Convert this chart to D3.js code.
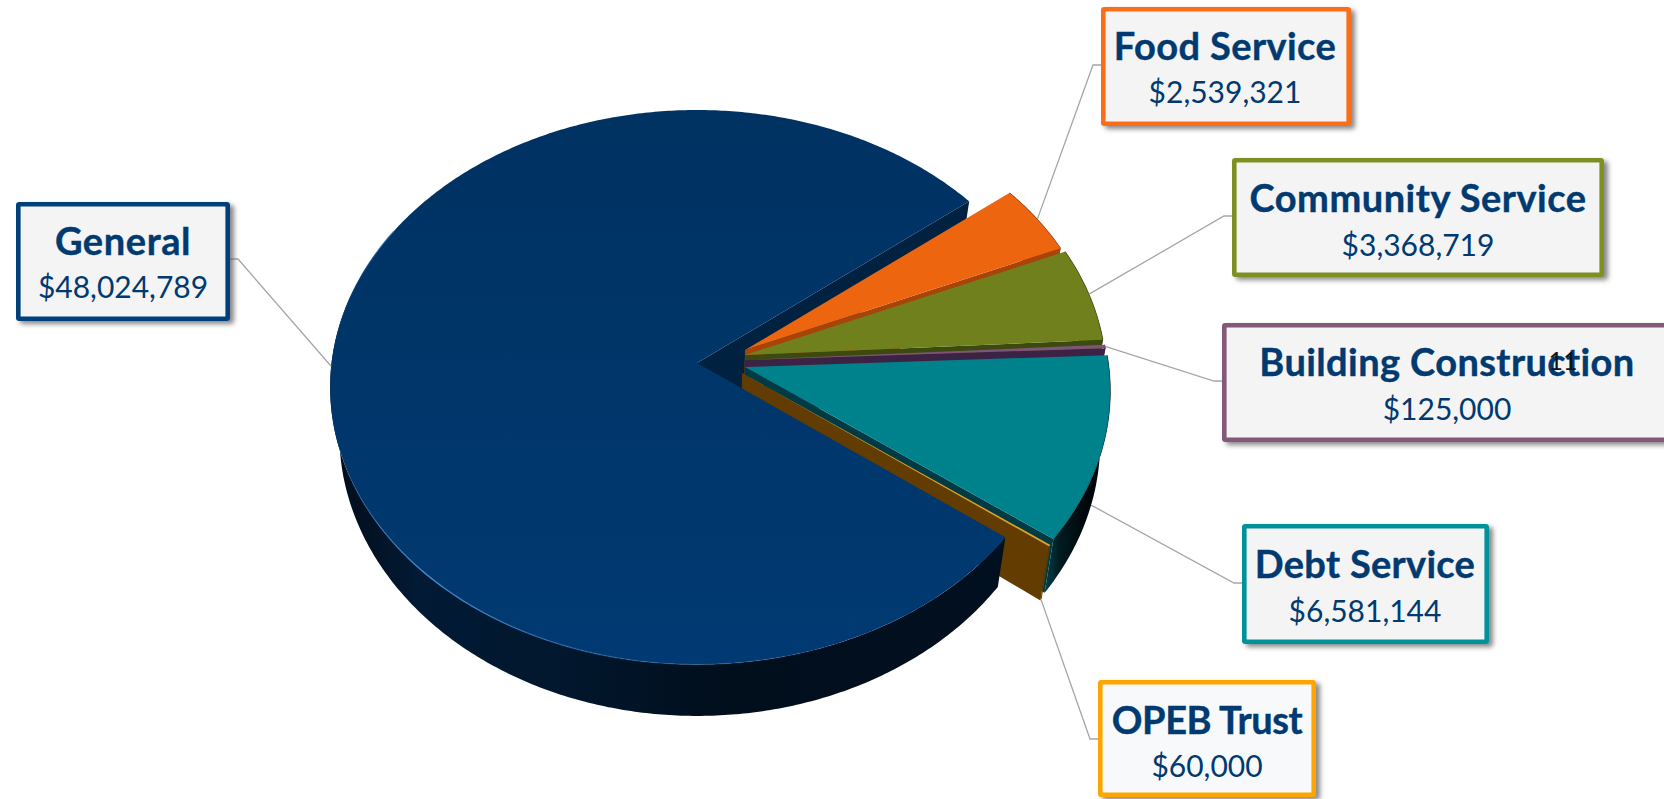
<!DOCTYPE html>
<html>
<head>
<meta charset="utf-8">
<script src="https://cdn.jsdelivr.net/npm/d3@7"></script>
<style>
  html, body { margin: 0; padding: 0; background: #fff; overflow: hidden; }
  text { font-family: Lato, "Open Sans", sans-serif; }
</style>
</head>
<body>
<div id="chart"></div>
<script>
// chart data
const categories = ["General", "Food Service", "Community Service", "Building Construction", "Debt Service", "OPEB Trust"];
const amounts = [48024789, 2539321, 3368719, 125000, 6581144, 60000];

// slice colours
const topColors = ["#00366b", "#ee6510", "#70801c", "#7e5578", "#00828c", "#e5a11b"];
const cutColors = ["#00213f", "#a84408", "#3c4a10", "#3c2345", "#003a44", "#623c00"];
const borderColors = ["#003f7a", "#fb6d17", "#7f8f22", "#835878", "#00929a", "#ffa500"];

// each slice is pulled away from the pie by this much
const pullX = [0, 48, 48, 48, 48, 45];
const pullY = [0, -13, -8, -3, 4, 10];
const sliceScale = [1.004, 0.975, 0.99, 0.995, 1, 1];
const sliceDepth = [47, 51, 51, 51, 51, 51];

// callout boxes
const boxX = [16, 1101, 1232, 1222, 1242, 1098];
const boxY = [202, 7, 158, 323, 524, 680];
const boxW = [214, 250, 372, 460, 247, 218];
const boxH = [119, 119, 119, 119, 120, 117];
const textX = [123, 1225, 1418, 1447, 1365, 1207];
const titleDy = [53, 53, 54, 53, 54, 54];
const valueDy = [96, 96, 98, 97, 98, 97];
const titleSpacing = [0.6, 0.4, 0.5, 0.4, 0.3, -0.4];
const elbowY = [259, 65, 216, 381, 583, 739];
const leaderOnBase = [0, 0, 0, 0, 1, 1];
const leaderTurn = [0, 0, 0, 0, 0.7, 0];

const width = 1664, height = 799;
const cx = 697, cy = 363;
const radiusX = 364, radiusY = 274, persp = 0.087;
const shrink = 0.025, vanishX = 700;

const svg = d3.select("#chart").append("svg")
  .attr("width", width)
  .attr("height", height);

const defs = svg.append("defs");

const shadow = defs.append("filter").attr("id", "boxShadow")
  .attr("x", "-10%").attr("y", "-10%").attr("width", "125%").attr("height", "130%");
shadow.append("feDropShadow")
  .attr("dx", 4).attr("dy", 3).attr("stdDeviation", 2.5)
  .attr("flood-color", "#555").attr("flood-opacity", 0.7);

function hGradient(id, x1, x2, stops) {
  const g = defs.append("linearGradient").attr("id", id)
    .attr("gradientUnits", "userSpaceOnUse")
    .attr("x1", x1).attr("x2", x2).attr("y1", 0).attr("y2", 0);
  stops.forEach(s => g.append("stop").attr("offset", s[0]).attr("stop-color", s[1]).attr("stop-opacity", s[2] === undefined ? 1 : s[2]));
}
hGradient("generalWall", 330, 1000, [[0, "#020c18"], [0.13, "#021a35"], [0.35, "#01172d"], [0.6, "#010e1c"], [1, "#011020"]]);
hGradient("debtWall", 1045, 1085, [[0, "#014048"], [0.35, "#001c22"], [1, "#00070a"]]);
hGradient("rimGlow", 335, 900, [[0, "#3b82c8", 0], [0.16, "#4a8fd6", 0.9], [0.45, "#2f6fb5", 0.5], [1, "#2f6fb5", 0]]);

const generalFace = defs.append("linearGradient").attr("id", "generalFace")
  .attr("gradientUnits", "userSpaceOnUse").attr("x1", 0).attr("x2", 0).attr("y1", 110).attr("y2", 665);
generalFace.append("stop").attr("offset", 0).attr("stop-color", "#003262");
generalFace.append("stop").attr("offset", 1).attr("stop-color", "#003a72");

// pie starts where General begins in the picture, clockwise from north
const startAngle = 126.9 * Math.PI / 180;
const pie = d3.pie().sort(null).startAngle(startAngle).endAngle(startAngle + 2 * Math.PI);
const slices = pie(amounts);

// flat pie position -> screen position, down = on the base of the disc
function project(angle, r, i, down) {
  const X = r * sliceScale[i] * Math.sin(angle), Y = -r * sliceScale[i] * Math.cos(angle);
  const w = 1 - persp * Y;
  let x = cx + pullX[i] + radiusX * X / w;
  let y = cy + pullY[i] + radiusY * Y / w;
  if (down) {
    x = vanishX + (x - vanishX) * (1 - shrink);
    y += sliceDepth[i] / w;
  }
  return [x, y];
}

const line = d3.line();

function arcAngles(a0, a1) {
  const n = Math.max(2, Math.ceil((a1 - a0) / 0.01));
  return d3.range(n + 1).map(k => a0 + (a1 - a0) * k / n);
}

function topPath(d, i) {
  const pts = arcAngles(d.startAngle, d.endAngle).map(a => project(a, 1, i, false));
  pts.unshift(project(0, 0, i, false));
  return line(pts) + "Z";
}
function rimWall(i, a0, a1) {
  const angles = arcAngles(a0, a1);
  const upper = angles.map(a => project(a, 1, i, false));
  const lower = angles.map(a => project(a, 1, i, true)).reverse();
  return line(upper.concat(lower)) + "Z";
}
// innerExtra drops the inner bottom corner a little, General's face hides the excess
function cutWall(i, a, innerExtra) {
  const inner = project(0, 0, i, true);
  return line([
    project(0, 0, i, false), project(a, 1, i, false),
    project(a, 1, i, true), [inner[0], inner[1] + (innerExtra || 0)]
  ]) + "Z";
}

const pieG = svg.append("g");

// back wall of the General slice goes first, the pulled slices sit on top of it
pieG.append("path")
  .attr("d", cutWall(0, slices[0].endAngle, 10))
  .attr("fill", cutColors[0]);

// pulled slices, back to front
d3.range(1, slices.length).forEach(i => {
  const d = slices[i];
  const g = pieG.append("g");
  g.append("path").attr("d", rimWall(i, d.startAngle, d.endAngle))
    .attr("fill", i === 4 ? "url(#debtWall)" : cutColors[i]);
  g.append("path").attr("d", cutWall(i, d.endAngle)).attr("fill", cutColors[i]);
  g.append("path").attr("d", topPath(d, i)).attr("fill", topColors[i]);
  g.append("path")
    .attr("d", line(arcAngles(d.startAngle, d.endAngle).map(a => project(a, 1, i, false))))
    .attr("fill", "none")
    .attr("stroke", "#000")
    .attr("stroke-opacity", 0.4)
    .attr("stroke-width", 0.9);
});

// General goes last so that its front edge covers the OPEB wall
const g0 = slices[0];
const frontEnd = 300 * Math.PI / 180;
pieG.append("path").attr("d", rimWall(0, g0.startAngle, frontEnd)).attr("fill", "url(#generalWall)");
pieG.append("path").attr("d", topPath(g0, 0)).attr("fill", "url(#generalFace)");
pieG.append("path")
  .attr("d", line(arcAngles(g0.startAngle, frontEnd).map(a => project(a, 1, 0, false))))
  .attr("fill", "none")
  .attr("stroke", "url(#rimGlow)")
  .attr("stroke-width", 1.4);

// leader lines
slices.forEach((d, i) => {
  const mid = (d.startAngle + d.endAngle) / 2 + leaderTurn[i] * Math.PI / 180;
  const end = project(mid, 1, i, leaderOnBase[i] === 1);
  const left = boxX[i] > end[0];
  const edge = left ? boxX[i] : boxX[i] + boxW[i];
  const elbow = left ? edge - 8 : edge + 8;
  svg.append("path")
    .attr("d", line([end, [elbow, elbowY[i]], [edge, elbowY[i]]]))
    .attr("fill", "none")
    .attr("stroke", "#a6a6a6")
    .attr("stroke-width", 1.3);
});

// callouts
const money = d3.format("$,");
slices.forEach((d, i) => {
  const g = svg.append("g");
  g.append("rect")
    .attr("x", boxX[i] + 2.3).attr("y", boxY[i] + 2.3)
    .attr("width", boxW[i] - 4.6).attr("height", boxH[i] - 4.6)
    .attr("rx", 1)
    .attr("fill", i === 5 ? "#f8f9fb" : "#f4f4f5")
    .attr("stroke", borderColors[i])
    .attr("stroke-width", 4.6)
    .attr("filter", "url(#boxShadow)");
  g.append("text")
    .attr("x", textX[i]).attr("y", boxY[i] + titleDy[i])
    .attr("text-anchor", "middle")
    .attr("font-size", 38).attr("font-weight", 700)
    .attr("letter-spacing", titleSpacing[i])
    .attr("fill", "#003a70")
    .attr("stroke", "#003a70")
    .attr("stroke-width", 0.4)
    .text(categories[i]);
  g.append("text")
    .attr("x", textX[i]).attr("y", boxY[i] + valueDy[i])
    .attr("text-anchor", "middle")
    .attr("font-size", 30).attr("font-weight", 400)
    .attr("fill", "#003a70")
    .text(money(amounts[i]));
});

// slide number that sits over the Building Construction box
svg.append("text")
  .attr("x", 1563).attr("y", 370)
  .attr("text-anchor", "middle")
  .attr("font-size", 25)
  .attr("fill", "#111")
  .text("11");
</script>
</body>
</html>
